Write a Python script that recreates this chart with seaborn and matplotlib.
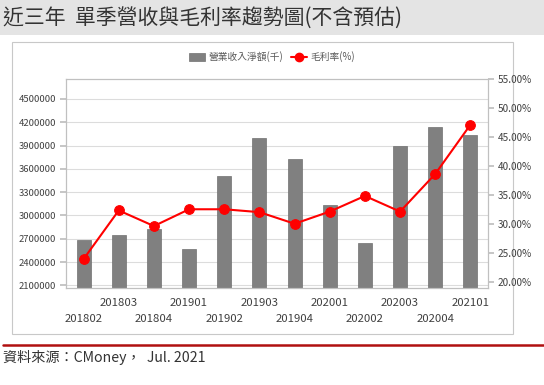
import numpy as np
import pandas as pd
import seaborn as sns
import matplotlib.pyplot as plt
from matplotlib.patches import Rectangle
from matplotlib.lines import Line2D

quarters = ['201802', '201803', '201804', '201901', '201902', '201903',
            '201904', '202001', '202002', '202003', '202004', '202101']
revenue = [2680000, 2744000, 2825000, 2563000, 3505000, 3997000,
           3726000, 3139000, 2645000, 3890000, 4134000, 4040000]
margin = [23.9, 32.3, 29.6, 32.5, 32.5, 32.0,
          30.0, 32.1, 34.8, 32.1, 38.6, 47.1]
left_ticks = [2100000, 2400000, 2700000, 3000000, 3300000, 3600000, 3900000, 4200000, 4500000]
right_ticks = [20, 25, 30, 35, 40, 45, 50, 55]

title = '近三年  單季營收與毛利率趨勢圖(不含預估)'
source = '資料來源：CMoney，  Jul. 2021'
bar_label = '營業收入淨額(千)'
line_label = '毛利率(%)'

sns.set_theme(style='white')
plt.rcParams['font.family'] = ['Noto Sans CJK TC', 'DejaVu Sans']

W, H = 544, 385
fig = plt.figure(figsize=(W / 100, H / 100), dpi=100)
fig.patch.set_facecolor('white')

# title band
fig.patches.append(Rectangle((0, 1 - 35 / H), 1, 35 / H, transform=fig.transFigure,
                             facecolor='#e4e4e4', edgecolor='none', zorder=-2))
fig.text(3 / W, 1 - 18 / H, title, fontsize=15, color='#333333', va='center', ha='left')

# chart box
fig.patches.append(Rectangle((12 / W, 1 - 334 / H), 501 / W, 292 / H, transform=fig.transFigure,
                             facecolor='white', edgecolor='#c8c8c8', lw=0.8, zorder=-2))
# red rule
fig.add_artist(Line2D([3 / W, 1], [1 - 345 / H, 1 - 345 / H], transform=fig.transFigure,
                      color='#b01010', lw=1.8))
fig.text(3 / W, 1 - 357 / H, source, fontsize=10.2, color='#333333', va='center', ha='left')

df = pd.DataFrame({'quarter': quarters, 'revenue': revenue, 'margin': margin})

ax = fig.add_axes([66 / W, 1 - 288 / H, 422 / W, 209 / H])
ax.set_facecolor('none')
sns.barplot(data=df, x='quarter', y='revenue', color='#808080', width=0.4, saturation=1,
            edgecolor='#707070', linewidth=0.5, ax=ax, zorder=2)
ax.set_xlim(-0.5, len(quarters) - 0.5)
ax.set_ylim(2066000, 4757000)
ax.set_yticks(left_ticks)
ax.set_yticklabels([str(v) for v in left_ticks], fontsize=6.8, color='#404040')
ax.yaxis.grid(True, color='#dcdcdc', lw=0.8, zorder=0)
ax.set_axisbelow(True)
ax.set_xlabel('')
ax.set_ylabel('')
ax.set_xticks(range(len(quarters)))
ax.set_xticklabels([('\n' + q) if i % 2 == 0 else (q + '\n') for i, q in enumerate(quarters)],
                   fontsize=8.2, color='#404040', linespacing=1.75)
ax.tick_params(axis='x', length=4, color='#bfbfbf', pad=3)
ax.tick_params(axis='y', length=4, color='#bfbfbf', pad=3, left=True)
for s in ax.spines.values():
    s.set_color('#c0c0c0')
    s.set_linewidth(0.8)

ax2 = ax.twinx()
sns.lineplot(x=np.arange(len(margin)), y=margin, ax=ax2, color='#ff0000', lw=1.5,
             marker='o', markersize=7, markeredgecolor='#ff0000', zorder=3)
ax2.set_ylim(18.9, 55.0)
ax2.set_yticks(right_ticks)
ax2.set_yticklabels([f'{v:.2f}%' for v in right_ticks], fontsize=7.2, color='#404040')
ax2.tick_params(axis='y', length=4, color='#bfbfbf', pad=3, right=True)
ax2.set_ylabel('')
ax2.set_xlabel('')
for s in ax2.spines.values():
    s.set_color('#c0c0c0')
    s.set_linewidth(0.8)
ax.set_xlim(-0.5, len(quarters) - 0.5)

handles = [Rectangle((0, 0), 1, 1, facecolor='#808080', edgecolor='#707070', lw=0.5),
           Line2D([], [], color='#ff0000', lw=1.5, marker='o', markersize=6)]
fig.legend(handles, [bar_label, line_label], loc='center', bbox_to_anchor=(272 / W, 1 - 57 / H),
           ncol=2, frameon=False, fontsize=7, labelcolor='#595959', handlelength=1.6,
           handleheight=1.0, handletextpad=0.4, columnspacing=0.8, borderpad=0)

fig.savefig('out.png', dpi=100)
